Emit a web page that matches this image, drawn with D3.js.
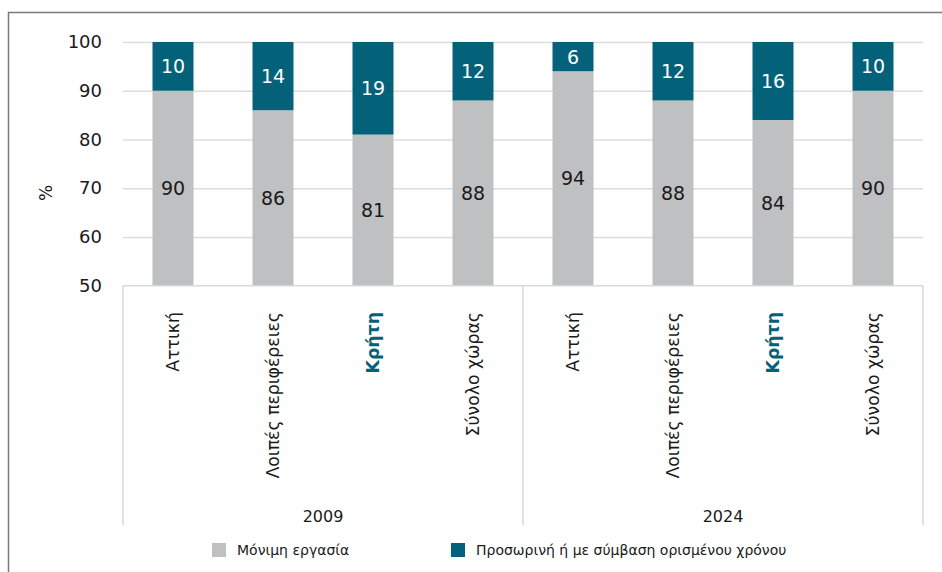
<!DOCTYPE html>
<html>
<head>
<meta charset="utf-8">
<script src="https://cdn.jsdelivr.net/npm/d3@7"></script>
<style>
  body { margin: 0; background: #fff; }
  svg text { font-family: "DejaVu Sans", "Noto Sans", sans-serif; fill: #1a1a1a; }
</style>
</head>
<body>
<svg id="chart" width="942" height="572"></svg>
<script>
// ===== data =====
const years = ["2009", "2024"];
const categories = ["Αττική", "Λοιπές περιφέρειες", "Κρήτη", "Σύνολο χώρας"];
const permanent = [90, 86, 81, 88, 94, 88, 84, 90];
const temporary = [10, 14, 19, 12, 6, 12, 16, 10];
const seriesNames = ["Μόνιμη εργασία", "Προσωρινή ή με σύμβαση ορισμένου χρόνου"];
const yTicks = [50, 60, 70, 80, 90, 100];

const colors = ["#bfc0c2", "#03627a"];
const highlight = "Κρήτη";

const svg = d3.select("#chart");

// outer frame (cropped on right/bottom)
svg.append("rect")
  .attr("x", 8.5).attr("y", 12.5)
  .attr("width", 1000).attr("height", 1000)
  .attr("fill", "none")
  .attr("stroke", "#7a7a7a")
  .attr("stroke-width", 1.5);

const margin = { top: 42, left: 123 };
const width = 800, height = 243.7;

const g = svg.append("g")
  .attr("transform", `translate(${margin.left},${margin.top})`);

// rows: one per bar
const rows = [];
years.forEach((yr, i) => {
  categories.forEach((c, j) => {
    const k = i * categories.length + j;
    rows.push({ key: yr + "|" + c, year: yr, cat: c, perm: permanent[k], temp: temporary[k] });
  });
});

const x = d3.scaleBand()
  .domain(rows.map((d) => d.key))
  .range([0, width])
  .paddingInner(0.59)
  .paddingOuter(0.295);

const y = d3.scaleLinear().domain([50, 100]).range([height, 0]);

// y axis + gridlines
const yAxisG = g.append("g")
  .call(d3.axisLeft(y).tickValues(yTicks).tickSize(-width).tickPadding(21));
yAxisG.select(".domain").remove();
yAxisG.selectAll(".tick line")
  .attr("stroke", "#dcdcdc")
  .attr("stroke-width", 1.5)
  .filter((d) => d === 50).remove();
yAxisG.selectAll(".tick text")
  .style("font-size", "18px")
  .attr("fill", "#1a1a1a");

// % label
g.append("text")
  .attr("transform", `translate(${46 - margin.left},${193 - margin.top}) rotate(-90)`)
  .attr("text-anchor", "middle")
  .attr("dominant-baseline", "central")
  .style("font-size", "17px")
  .text("%");

// bars
const bars = g.selectAll(".bar").data(rows).enter().append("g").attr("class", "bar");
bars.append("rect")
  .attr("x", (d) => x(d.key))
  .attr("width", x.bandwidth())
  .attr("y", (d) => y(d.perm))
  .attr("height", (d) => y(50) - y(d.perm))
  .attr("fill", colors[0]);
bars.append("rect")
  .attr("x", (d) => x(d.key))
  .attr("width", x.bandwidth())
  .attr("y", (d) => y(d.perm + d.temp))
  .attr("height", (d) => y(d.perm) - y(d.perm + d.temp))
  .attr("fill", colors[1]);

// value labels
bars.append("text")
  .attr("x", (d) => x(d.key) + x.bandwidth() / 2)
  .attr("y", (d) => y((50 + d.perm) / 2))
  .attr("text-anchor", "middle")
  .attr("dominant-baseline", "central")
  .style("font-size", "19px")
  .text((d) => d.perm);
bars.append("text")
  .attr("x", (d) => x(d.key) + x.bandwidth() / 2)
  .attr("y", (d) => y(d.perm + d.temp / 2))
  .attr("text-anchor", "middle")
  .attr("dominant-baseline", "central")
  .style("font-size", "19px")
  .style("fill", "#fff")
  .text((d) => d.temp);

// category axis box
const axisColor = "#d9d9d9";
g.append("line")
  .attr("x1", 0).attr("x2", width)
  .attr("y1", height).attr("y2", height)
  .attr("stroke", axisColor).attr("stroke-width", 1.5);
const groupW = width / years.length;
d3.range(years.length + 1).forEach((i) => {
  g.append("line")
    .attr("x1", i * groupW).attr("x2", i * groupW)
    .attr("y1", height).attr("y2", 525 - margin.top)
    .attr("stroke", axisColor).attr("stroke-width", 1.5);
});

// category labels
g.selectAll(".cat").data(rows).enter().append("text")
  .attr("class", "cat")
  .attr("transform", (d) => `translate(${x(d.key) + x.bandwidth() / 2},${312 - margin.top}) rotate(-90)`)
  .attr("text-anchor", "end")
  .attr("dominant-baseline", "central")
  .style("font-size", "17.3px")
  .style("font-weight", (d) => (d.cat === highlight ? "bold" : "normal"))
  .style("fill", (d) => (d.cat === highlight ? colors[1] : "#1a1a1a"))
  .text((d) => d.cat);

// year labels
g.selectAll(".yr").data(years).enter().append("text")
  .attr("x", (d, i) => i * groupW + groupW / 2)
  .attr("y", 516 - margin.top)
  .attr("text-anchor", "middle")
  .attr("dominant-baseline", "central")
  .style("font-size", "16px")
  .text((d) => d);

// legend
const legendX = [212, 451];
const legend = svg.selectAll(".legend").data(seriesNames).enter().append("g")
  .attr("transform", (d, i) => `translate(${legendX[i]},543)`);
legend.append("rect")
  .attr("width", 14).attr("height", 14)
  .attr("fill", (d, i) => colors[i]);
legend.append("text")
  .attr("x", 25).attr("y", 7)
  .attr("dominant-baseline", "central")
  .style("font-size", "14px")
  .text((d) => d);
</script>
</body>
</html>
